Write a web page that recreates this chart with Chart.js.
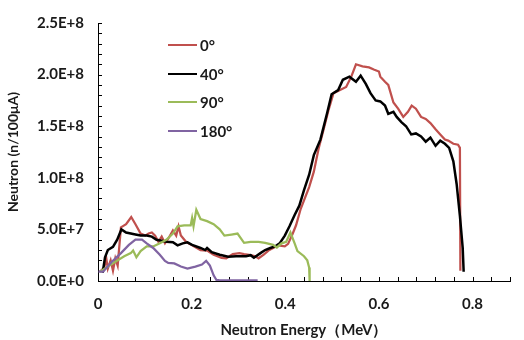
<!DOCTYPE html>
<html>
<head>
<meta charset="utf-8">
<script src="https://cdn.jsdelivr.net/npm/chart.js@4.4.1/dist/chart.umd.min.js"></script>
<style>
html,body{margin:0;padding:0;background:#fff;overflow:hidden}
#wrap{position:relative;width:524px;height:340px}
#legend{position:absolute;left:168px;top:31px;font:bold 15px Lato,"Liberation Sans",sans-serif;color:#1a1a1a}
.lg-row{display:flex;align-items:center;height:28.5px}
.lg-line{display:inline-block;width:29px;height:2px;margin-right:3px}
</style>
</head>
<body>
<div id="wrap"><canvas id="c" width="524" height="340"></canvas><div id="legend"></div></div>
<script>
// Neutron energy spectra at four angles, flux values in units of 1E7 n/100µA
var seriesNames  = ["0°", "40°", "90°", "180°"];
var seriesColors = ["#C0504D", "#000000", "#9BBB59", "#8064A2"];

var energy0 = [0.004,0.013,0.018,0.021,0.027,0.032,0.037,0.042,0.049,0.060,0.071,0.080,0.091,0.101,0.108,0.115,0.122,0.129,0.136,0.143,0.150,0.160,0.167,0.172,0.177,0.188,0.201,0.219,0.233,0.247,0.264,0.274,0.288,0.302,0.312,0.326,0.336,0.343,0.354,0.364,0.374,0.385,0.399,0.406,0.416,0.423,0.433,0.451,0.461,0.471,0.482,0.492,0.503,0.517,0.530,0.541,0.551,0.565,0.579,0.589,0.600,0.603,0.613,0.620,0.631,0.641,0.652,0.662,0.670,0.679,0.690,0.700,0.710,0.721,0.731,0.741,0.748,0.759,0.769,0.773,0.774];
var flux0   = [0.9,1.3,2.1,1.2,2.0,1.0,2.2,1.5,5.2,5.5,6.2,5.5,4.6,4.4,4.6,4.7,4.4,3.8,4.3,3.65,4.1,4.9,4.4,5.3,4.4,3.8,3.45,3.0,2.95,2.55,2.25,2.2,2.6,2.7,2.6,2.5,2.4,2.2,2.55,2.95,3.2,3.45,3.35,3.6,4.6,5.4,7.0,9.1,10.6,12.8,14.7,16.5,18.2,18.5,18.8,19.8,21.0,20.8,20.7,20.5,20.3,19.8,19.3,19.0,17.3,16.7,15.9,16.4,17.0,16.7,15.9,15.7,15.3,14.7,14.2,13.7,13.6,13.3,13.2,12.9,1.0];

var energy40 = [0.010,0.015,0.021,0.032,0.041,0.050,0.060,0.070,0.080,0.091,0.104,0.115,0.125,0.136,0.146,0.160,0.170,0.181,0.191,0.201,0.219,0.229,0.233,0.243,0.260,0.278,0.295,0.316,0.326,0.333,0.347,0.357,0.368,0.378,0.388,0.399,0.409,0.420,0.430,0.440,0.451,0.461,0.475,0.489,0.499,0.513,0.523,0.537,0.551,0.561,0.572,0.582,0.593,0.603,0.613,0.620,0.631,0.638,0.648,0.658,0.669,0.679,0.690,0.700,0.710,0.721,0.731,0.741,0.750,0.759,0.766,0.773,0.779,0.781];
var flux40   = [0.8,2.3,3.0,3.3,4.0,5.0,4.7,4.6,4.5,4.4,4.4,4.3,4.0,3.9,3.8,3.75,3.45,3.65,3.75,3.5,3.2,3.0,3.2,2.8,2.55,2.35,2.4,2.4,2.5,2.25,2.7,3.0,3.2,3.35,3.65,4.4,5.3,6.4,7.3,8.8,10.3,12.2,13.7,16.2,18.1,18.5,19.5,19.8,19.3,19.9,19.1,18.2,17.5,17.4,17.0,16.2,16.4,15.9,15.4,15.0,14.2,14.3,14.0,13.5,13.9,13.1,13.6,13.3,12.9,11.6,9.4,6.3,3.2,0.9];

var energy90 = [0.004,0.035,0.056,0.070,0.075,0.082,0.091,0.104,0.118,0.132,0.146,0.160,0.170,0.184,0.198,0.201,0.204,0.210,0.219,0.233,0.247,0.260,0.270,0.285,0.298,0.312,0.326,0.343,0.357,0.374,0.382,0.392,0.402,0.411,0.420,0.426,0.440,0.447,0.451,0.452];
var flux90   = [0.9,1.8,2.4,2.7,2.95,2.3,2.9,3.35,3.35,3.65,4.0,4.6,5.3,5.4,5.4,6.1,5.3,6.9,6.0,5.8,5.5,5.0,4.4,4.5,4.6,3.7,3.8,3.8,3.7,3.5,3.25,3.65,3.8,4.7,3.65,2.9,2.4,2.0,1.3,0.0];

var energy180 = [0.001,0.011,0.028,0.049,0.066,0.080,0.094,0.104,0.118,0.132,0.143,0.150,0.163,0.177,0.191,0.208,0.222,0.231,0.239,0.247,0.253,0.260,0.341];
var flux180   = [0.9,0.9,1.8,2.7,3.5,4.0,4.0,3.65,3.2,2.55,1.95,1.75,1.7,1.4,1.2,1.4,1.6,1.95,1.5,0.55,0.1,0.05,0.05];

var xMin = 0, xMax = 0.88, xStep = 0.04, xLabelEvery = 0.2;
var yMin = 0, yMax = 2.5e8, yStep = 1e7, yLabelEvery = 5e7;
var fluxUnit = 1e7;

var energies = [energy0, energy40, energy90, energy180];
var fluxes   = [flux0, flux40, flux90, flux180];

var FONT = "Lato, 'Liberation Sans', sans-serif";
var TXT = "#1a1a1a";

function pts(xs, ys){ return xs.map(function(x,i){ return {x:x, y:ys[i]*fluxUnit}; }); }

var datasets = seriesNames.map(function(n,i){
  return {
    label:n, data:pts(energies[i], fluxes[i]),
    borderColor:seriesColors[i], backgroundColor:seriesColors[i],
    borderWidth:(i===1?2.5:2.25), pointRadius:0, showLine:true, tension:0,
    order:seriesNames.length-1-i
  };
});

// Excel-style inward tick marks on both axes
var innerTicks = {
  id:"innerTicks",
  beforeDatasetsDraw:function(chart){
    var c=chart.ctx, a=chart.chartArea, xs=chart.scales.x, ys=chart.scales.y;
    c.save(); c.strokeStyle="#000"; c.lineWidth=1; c.beginPath();
    xs.ticks.forEach(function(t){ var p=Math.round(xs.getPixelForValue(t.value))+0.5; c.moveTo(p,a.bottom); c.lineTo(p,a.bottom-4); });
    ys.ticks.forEach(function(t){ var p=Math.round(ys.getPixelForValue(t.value))+0.5; c.moveTo(a.left,p); c.lineTo(a.left+4,p); });
    c.stroke(); c.restore();
  }
};

new Chart(document.getElementById("c"), {
  type:"scatter",
  data:{datasets:datasets},
  plugins:[innerTicks],
  options:{
    responsive:false, animation:false,
    layout:{padding:{top:12,right:2,left:0,bottom:0}},
    plugins:{legend:{display:false}, tooltip:{enabled:false}},
    scales:{
      x:{
        type:"linear", min:xMin, max:xMax,
        border:{color:"#000", width:1},
        grid:{drawOnChartArea:false, drawTicks:false},
        ticks:{stepSize:xStep, autoSkip:false, maxRotation:0, padding:14, color:TXT, font:{family:FONT, size:15, weight:"bold"},
          callback:function(v){ var k=Math.round(v*100); return (k%Math.round(xLabelEvery*100)===0)?String(Math.round(v*10)/10):""; }},
        title:{display:true, text:"Neutron Energy（MeV）", color:TXT, font:{family:FONT, size:15, weight:"bold"}, padding:{top:0,bottom:1}},
        afterFit:function(s){ s.height=59; }
      },
      y:{
        type:"linear", min:yMin, max:yMax,
        border:{color:"#000", width:1},
        grid:{drawOnChartArea:false, drawTicks:false},
        ticks:{stepSize:yStep, autoSkip:false, padding:14, color:TXT, font:{family:FONT, size:15, weight:"bold"},
          callback:function(v){ return (Math.round(v)%yLabelEvery===0)?v.toExponential(1).toUpperCase():""; }},
        title:{display:true, text:"Neutron (n/100μA)", color:TXT, font:{family:FONT, size:14, weight:"bold"}, padding:{top:5,bottom:0}},
        afterFit:function(s){ s.width=98; }
      }
    }
  }
});

// legend built from the series
document.getElementById("legend").innerHTML = seriesNames.map(function(n,i){
  return '<div class="lg-row"><span class="lg-line" style="background:'+seriesColors[i]+'"></span>'+n+'</div>';
}).join("");
</script>
</body>
</html>
